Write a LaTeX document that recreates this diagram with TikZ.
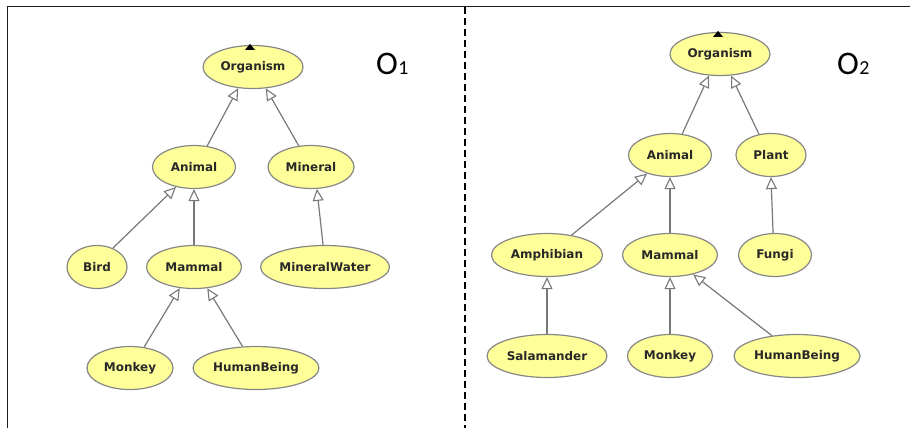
\documentclass[tikz,border=0pt]{standalone}
\usepackage{fontspec}
\usetikzlibrary{shapes.geometric,arrows.meta}
\newfontfamily\classfont{DejaVu Sans}
\newfontfamily\labelfont{Carlito}
\definecolor{classfill}{RGB}{255,255,153}
\definecolor{classedge}{RGB}{135,135,135}
\definecolor{classtext}{RGB}{40,40,40}
\definecolor{linkgray}{RGB}{120,120,120}
\definecolor{framecol}{RGB}{30,30,30}
\tikzset{
  cls/.style={ellipse, draw=classedge, line width=1.2bp, fill=classfill,
    inner sep=0pt, minimum height=43bp, text=classtext,
    font=\classfont\bfseries\fontsize{12}{13}\selectfont},
  isa/.style={draw=linkgray, line width=1.2bp,
    -{Triangle[length=12bp,width=11bp,fill=white,line width=1.1bp]}},
  onto/.style={font=\labelfont\fontsize{33}{35}\selectfont, inner sep=0pt, anchor=base west},
  rootmark/.style={fill=black}
}
\newcommand{\ontolabel}[1]{O\kern0.5bp{\fontsize{20}{20}\selectfont #1}}
\begin{document}
\begin{tikzpicture}[x=1bp,y=-1bp]
\useasboundingbox (0,0) rectangle (910,428);
% outer frame and separator
\draw[framecol, line width=1.4bp] (7.5,428) -- (7.5,6.5) -- (912,6.5);
\draw[black, line width=1.3bp, dash pattern=on 6.5bp off 4.5bp] (465,7) -- (465,428);

% ---------- first ontology ----------
\node[cls, minimum width=100bp] (aorg) at (253,67) {Organism};
\node[cls, minimum width=83bp]  (aani) at (194,167) {Animal};
\node[cls, minimum width=86bp]  (amin) at (311,167) {Mineral};
\node[cls, minimum width=60bp]  (abir) at (97,267) {Bird};
\node[cls, minimum width=95bp]  (amam) at (194,267) {Mammal};
\node[cls, minimum width=127bp] (amwa) at (325,267) {MineralWater};
\node[cls, minimum width=86bp]  (amon) at (130,368) {Monkey};
\node[cls, minimum width=126bp] (ahum) at (256,368) {HumanBeing};
\fill[rootmark] ([xshift=-8bp,yshift=-5bp]aorg.north) -- ([xshift=2bp,yshift=-5bp]aorg.north) -- ([xshift=-3bp,yshift=1bp]aorg.north) -- cycle;
\node[onto] (ao) at (376,74) {\ontolabel{1}};

\draw[isa] (aani.58)  -- (aorg.235);
\draw[isa] (amin.120) -- (aorg.301);
\draw[isa] (abir.50)  -- (aani.228);
\draw[isa] (amam.north) -- (aani.south);
\draw[isa] (amwa.95)  -- (amin.285);
\draw[isa] (amon.56)  -- (amam.236);
\draw[isa] (ahum.122) -- (amam.302);

% ---------- second ontology ----------
\node[cls, minimum width=100bp] (borg) at (720,54) {Organism};
\node[cls, minimum width=83bp]  (bani) at (670,155) {Animal};
\node[cls, minimum width=70bp]  (bpla) at (771,155) {Plant};
\node[cls, minimum width=111bp] (bamp) at (547,255) {Amphibian};
\node[cls, minimum width=95bp]  (bmam) at (670,255) {Mammal};
\node[cls, minimum width=73bp]  (bfun) at (775,255) {Fungi};
\node[cls, minimum width=120bp] (bsal) at (547,356) {Salamander};
\node[cls, minimum width=85bp]  (bmon) at (670,356) {Monkey};
\node[cls, minimum width=126bp] (bhum) at (797,356) {HumanBeing};
\fill[rootmark] ([xshift=-7bp,yshift=-5bp]borg.north) -- ([xshift=3bp,yshift=-5bp]borg.north) -- ([xshift=-2bp,yshift=1bp]borg.north) -- cycle;
\node[onto] (bo) at (837,74) {\ontolabel{2}};

\draw[isa] (bani.60)  -- (borg.243);
\draw[isa] (bpla.120) -- (borg.297);
\draw[isa] (bamp.39)  -- (bani.219);
\draw[isa] (bmam.north) -- (bani.south);
\draw[isa] (bfun.95) -- (bpla.south);
\draw[isa] (bsal.north) -- (bamp.south);
\draw[isa] (bmon.north) -- (bmam.south);
\draw[isa] (bhum.141) -- (bmam.320);
\end{tikzpicture}
\end{document}
